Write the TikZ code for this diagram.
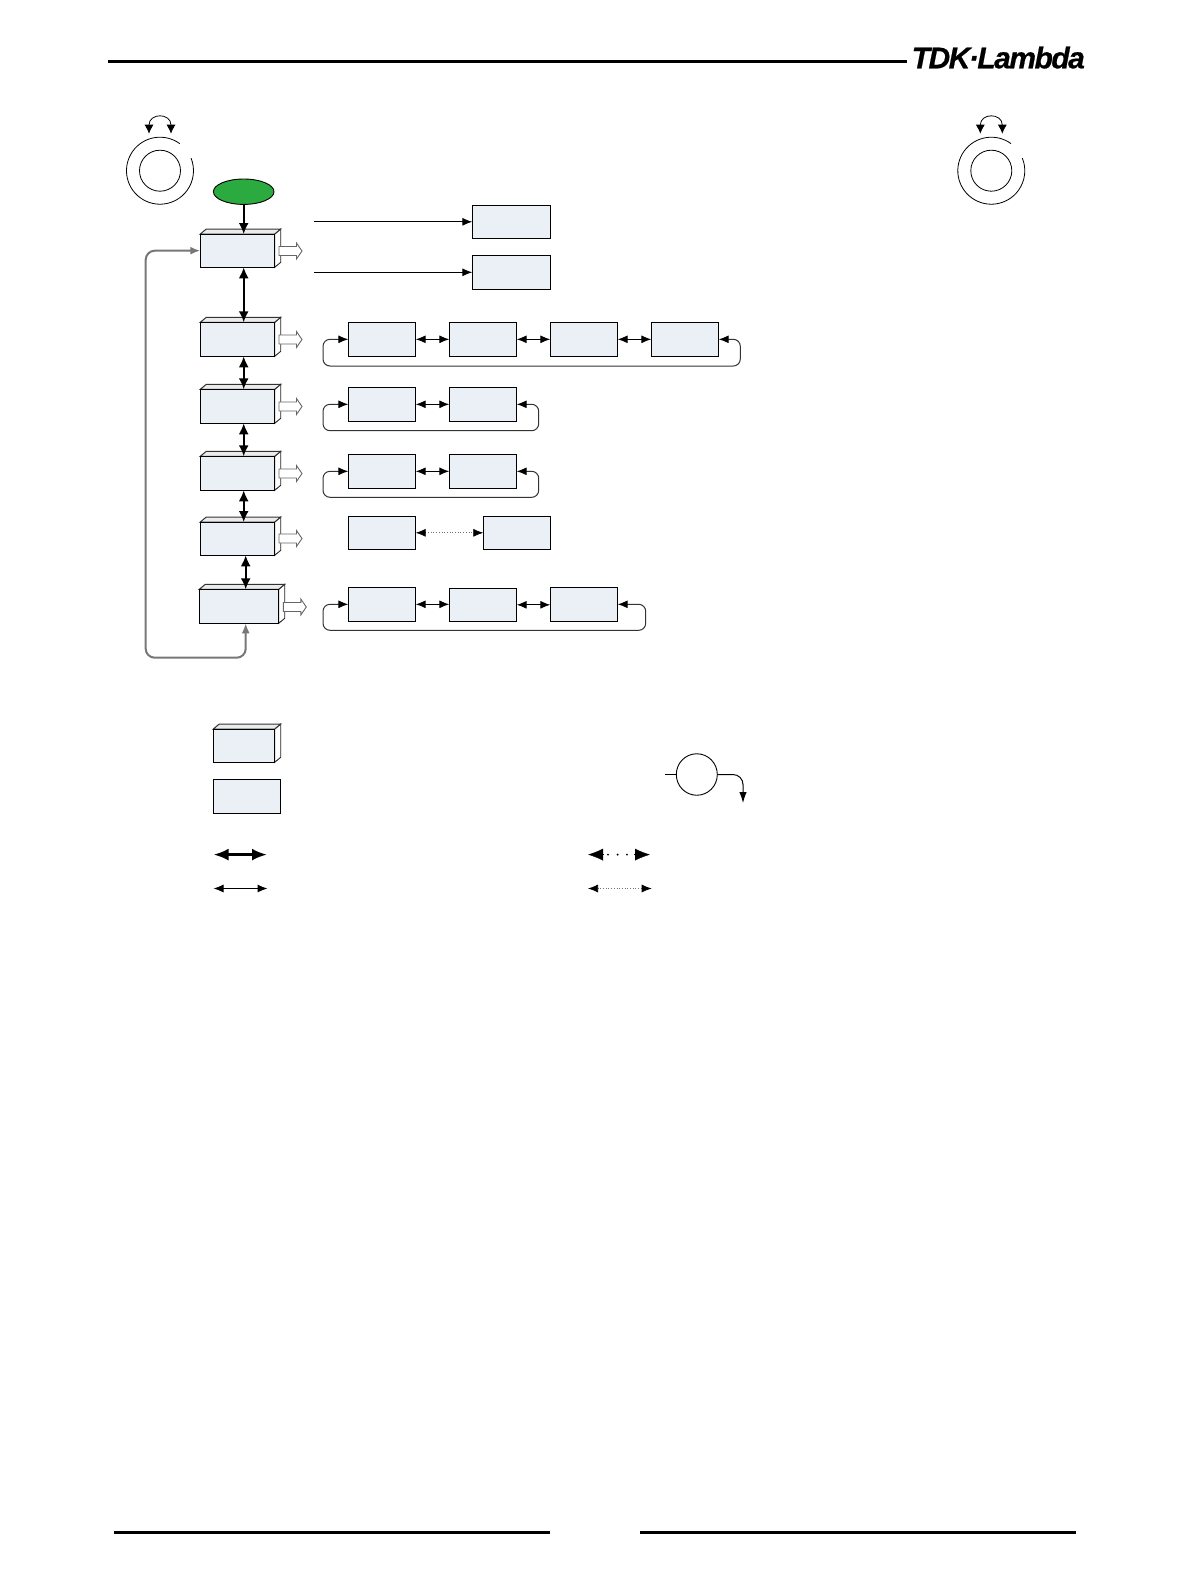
\documentclass[tikz,border=0pt]{standalone}
\usepackage{fontspec}
\newfontfamily\logofont[LetterSpace=-5,BoldItalicFeatures={FakeBold=0.6,LetterSpace=-5}]{Liberation Sans}
\usetikzlibrary{arrows.meta,shapes.geometric}
\definecolor{boxfill}{HTML}{EBF0F6}
\definecolor{startgreen}{HTML}{2BAA3F}
\definecolor{loopgray}{HTML}{777777}
\tikzset{
  flatbox/.style={draw=black,line width=1pt,fill=boxfill,rectangle,inner sep=0pt,outer sep=0pt},
  sideface/.style={draw=black!85,line width=.9pt,fill=white},
  topface/.style={draw=black!80,line width=1pt,fill=black!8},
  heavy/.style={line width=2pt,black,{Latex[length=11pt,width=10pt]}-{Latex[length=11pt,width=10pt]}},
  heavyone/.style={line width=2pt,black,-{Latex[length=11pt,width=10pt]}},
  thin2/.style={line width=1pt,black,{Latex[length=10pt,width=8pt]}-{Latex[length=10pt,width=8pt]}},
  thinone/.style={line width=1pt,black,-{Latex[length=10pt,width=8pt]}},
  dotlink/.style={line width=.7pt,black!55,dotted,{Latex[length=10pt,width=8pt,black]}-{Latex[length=10pt,width=8pt,black]}},
  looplink/.style={line width=1pt,black!80,rounded corners=7pt,{Latex[length=10pt,width=8pt,black]}-{Latex[length=10pt,width=8pt,black]}},
  graylink/.style={line width=2pt,loopgray,rounded corners=9pt},
  knobline/.style={line width=.8pt,black},
  rule/.style={line width=3pt,black},
  blockarrow/.style={draw=black!60,line width=.9pt,fill=white},
}
% name, x1, y1, x2, y2
\newcommand{\fbx}[5]{%
  \pgfmathsetmacro{\bw}{#4-#2}\pgfmathsetmacro{\bh}{#5-#3}%
  \pgfmathsetmacro{\bcx}{(#4+#2)/2}\pgfmathsetmacro{\bcy}{(#5+#3)/2}%
  \node[flatbox,minimum width=\bw pt,minimum height=\bh pt] (#1) at (\bcx,\bcy) {};}
\newcommand{\tbx}[5]{%
  \draw[sideface] (#4,#3) -- ++(6,-5) -- (#4+6,#5-5) -- (#4,#5) -- cycle;
  \draw[topface] (#2,#3) -- ++(6,-5) -- (#4+6,#3-5) -- (#4,#3) -- cycle;
  \fbx{#1}{#2}{#3}{#4}{#5}}
\newcommand{\blk}[2]{%
  \draw[blockarrow] (#1,#2-4.5) -- ++(17.5,0) -- ++(0,-3.5) -- (#1+23,#2) -- (#1+17.5,#2+8) -- ++(0,-3.5) -- (#1,#2+4.5) -- cycle;}
\newcommand{\knob}[3]{%
  \node[draw=black,line width=.8pt,circle,minimum size=41pt,inner sep=0pt] (#1) at (#2,#3) {};
  \draw[knobline] ([shift={(54:33.5pt)}]#1.center) arc[start angle=54,delta angle=328,radius=33.5pt];
  \draw[knobline,{Latex[length=9pt,width=9pt]}-{Latex[length=9pt,width=9pt]}] (#2-11,#3-37) .. controls (#2-11,#3-58) and (#2+11,#3-58) .. (#2+11,#3-37);}
\begin{document}
\begin{tikzpicture}[x=1pt,y=-1pt]
\useasboundingbox (0,0) rectangle (1191,1588);
\fill[white] (0,0) rectangle (1191,1588);
% header and footer
\draw[rule] (108.4,61.3) -- (907,61.3);
\node[inner sep=0pt,anchor=base west] (logo) at (911.5,68.3) {\logofont\bfseries\itshape\fontsize{30}{30}\selectfont TDK·Lambda};
\draw[rule] (113.8,1532.4) -- (550,1532.4);
\draw[rule] (640,1532.4) -- (1075.6,1532.4);
% knobs
\knob{kl}{160}{170.7}
\knob{kr}{991.3}{170.7}
% left column
\node[draw=black,line width=.9pt,fill=startgreen,ellipse,minimum width=60.6pt,minimum height=25.4pt,inner sep=0pt,outer sep=0pt] (start) at (243.7,191.7) {};
\tbx{m1}{200.3}{234}{274.7}{267.3}
\tbx{m2}{200.3}{322.3}{274.7}{356.3}
\tbx{m3}{200.3}{389.3}{274.7}{423.3}
\tbx{m4}{200.3}{456.3}{274.7}{490.3}
\tbx{m5}{200.3}{522}{274.7}{555.3}
\tbx{m6}{199.3}{589.3}{278.7}{623.3}
\blk{279}{251}
\blk{279}{339.5}
\blk{279}{406.5}
\blk{279}{473.5}
\blk{279}{538.5}
\blk{283.3}{607}
\draw[heavyone] (start.south) -- ([xshift=6.2pt]m1.north);
\draw[heavy] ([xshift=6.2pt]m1.south) -- ([xshift=6.2pt]m2.north);
\draw[heavy] ([xshift=6.2pt]m2.south) -- ([xshift=6.2pt]m3.north);
\draw[heavy] ([xshift=6.2pt]m3.south) -- ([xshift=6.2pt]m4.north);
\draw[heavy] ([xshift=6.2pt]m4.south) -- ([xshift=6.2pt]m5.north);
\draw[heavy] ([xshift=8.2pt]m5.south) -- ([xshift=6.7pt]m6.north);
% gray return
\coordinate (gb) at (245.7,657.7);
\coordinate (gl) at (145.7,657.7);
\coordinate (gt) at (145.7,250.7);
\draw[graylink,{Latex[length=10pt,width=8pt]}-{Latex[length=10pt,width=8pt]}] (m1.west) -- (gt) -- (gl) -- (gb) -- ([xshift=6.7pt]m6.south);
% right of first
\fbx{r1}{472.3}{205.3}{550.7}{238.3}
\fbx{r2}{472.3}{255.3}{550.7}{289.3}
\coordinate (s1) at (314,221.8);
\coordinate (s2) at (314,272.3);
\draw[thinone] (s1) -- (r1.west);
\draw[thinone] (s2) -- (r2.west);
% row a
\fbx{a1}{348.3}{322.3}{415.7}{356.3}
\fbx{a2}{449.3}{322.3}{516.7}{356.3}
\fbx{a3}{550.3}{322.3}{617.7}{356.3}
\fbx{a4}{651.3}{322.3}{718.7}{356.3}
\draw[thin2] (a1) -- (a2);
\draw[thin2] (a2) -- (a3);
\draw[thin2] (a3) -- (a4);
\coordinate (al) at (323,366);
\coordinate (ar) at (740.3,366);
\draw[looplink] (a4.east) -| (ar) -- (al) |- (a1.west);
% row b
\fbx{b1}{348.3}{387.3}{415.7}{421.3}
\fbx{b2}{449.3}{387.3}{516.7}{421.3}
\draw[thin2] (b1) -- (b2);
\coordinate (bl) at (323,430.7);
\coordinate (br) at (538.7,430.7);
\draw[looplink] (b2.east) -| (br) -- (bl) |- (b1.west);
% row c
\fbx{c1}{348.3}{454.3}{415.7}{488.3}
\fbx{c2}{449.3}{454.3}{516.7}{488.3}
\draw[thin2] (c1) -- (c2);
\coordinate (cl) at (323,497.3);
\coordinate (cr) at (538.7,497.3);
\draw[looplink] (c2.east) -| (cr) -- (cl) |- (c1.west);
% row d
\fbx{d1}{348.3}{516.3}{415.7}{549.3}
\fbx{d2}{483.3}{516.3}{550.7}{549.3}
\draw[dotlink] (d1) -- (d2);
% row e
\fbx{e1}{348.3}{587.3}{415.7}{621.3}
\fbx{e2}{449.3}{588.3}{516.7}{621.3}
\fbx{e3}{550.3}{587.3}{617.7}{621.3}
\draw[thin2] (e1.east) -- (e1.east -| e2.west);
\draw[thin2] (e2.east) -- (e2.east -| e3.west);
\coordinate (el) at (323,630.3);
\coordinate (er) at (645.7,630.3);
\draw[looplink] (e3.east) -| (er) -- (el) |- (e1.west);
% legend
\tbx{lg1}{213.3}{729}{274.7}{762.3}
\fbx{lg2}{213.3}{779.3}{280.6}{813.3}
\coordinate (t1) at (213.5,854.6); \coordinate (t2) at (267,854.6);
\coordinate (t3) at (213.5,888.5); \coordinate (t4) at (267.5,888.5);
\draw[line width=2.8pt,black,{Latex[length=15pt,width=12pt]}-{Latex[length=15pt,width=12pt]}] (t1) -- (t2);
\draw[thin2] (t3) -- (t4);
\coordinate (u1) at (588,854.6); \coordinate (u2) at (650,854.6);
\coordinate (u3) at (588,888.5); \coordinate (u4) at (651.7,888.5);
\draw[black,{Latex[length=15pt,width=12pt]}-{Latex[length=15pt,width=12pt]}] (u1) -- (u2);
\draw[white,line width=3pt] (604,854.6) -- (634,854.6);
\foreach \dx/\dn in {608/da,617.6/db,627/dc}{\fill[black] (\dx,854.6) circle[radius=1.1pt];}
\draw[dotlink] (u3) -- (u4);
\node[draw=black,line width=.9pt,ellipse,minimum width=41pt,minimum height=41.5pt,inner sep=0pt,outer sep=0pt] (lc) at (696.8,774.5) {};
\coordinate (lcl) at (665.4,774.5);
\coordinate (lcd) at (743,803);
\draw[line width=.9pt,black] (lcl) -- (lc.west);
\draw[line width=1pt,black,rounded corners=10pt,-{Latex[length=11pt,width=7.5pt]}] (lc.east) -| (lcd);
\end{tikzpicture}
\end{document}
